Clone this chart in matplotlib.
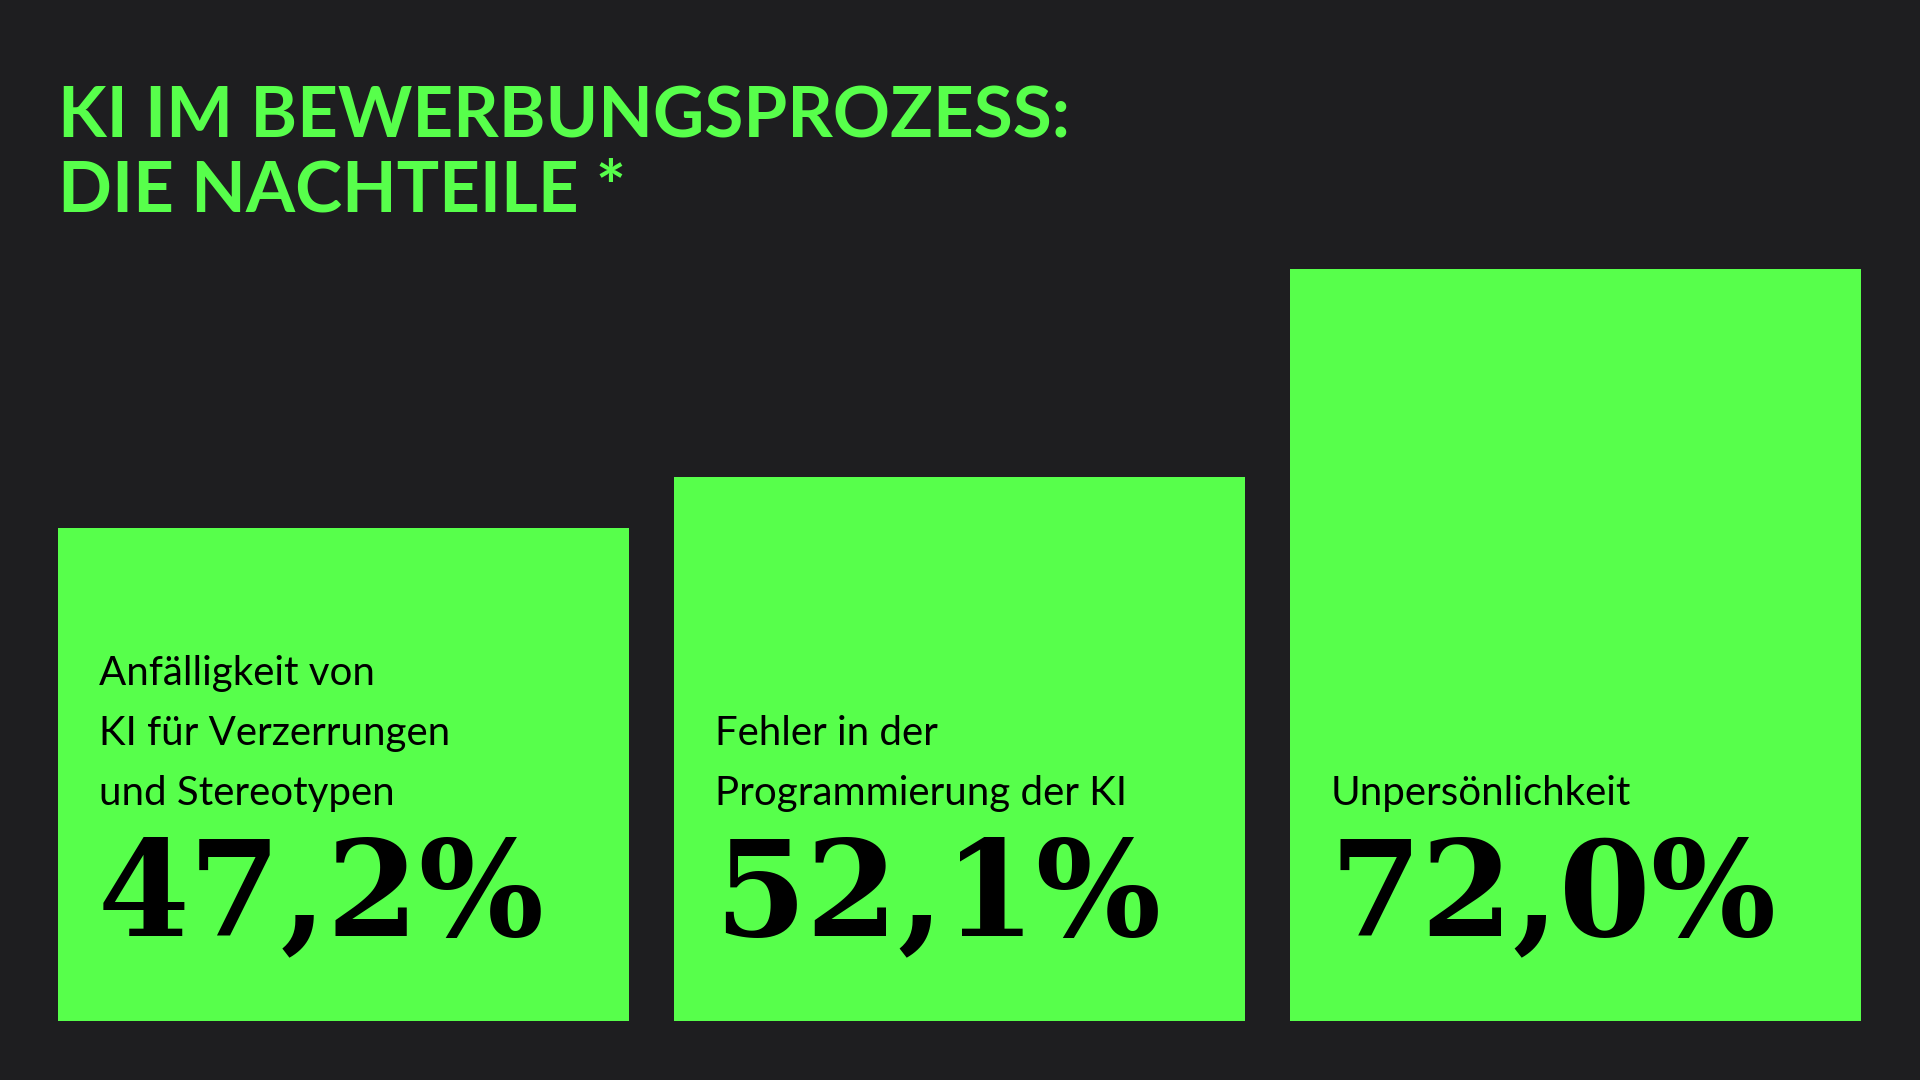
import matplotlib.pyplot as plt

# data
labels = [
    "Anfälligkeit von\nKI für Verzerrungen\nund Stereotypen",
    "Fehler in der\nProgrammierung der KI",
    "Unpersönlichkeit",
]
values = [47.2, 52.1, 72.0]
value_texts = ["47,2%", "52,1%", "72,0%"]

bg = "#1e1e20"
green = "#57ff4b"

fig = plt.figure(figsize=(19.2, 10.8), dpi=100, facecolor=bg)

# axes: baseline at y=1021px, 10.45 px per percentage point
base_px = 1021
px_per_unit = 10.45
ax = fig.add_axes([0, (1080 - base_px) / 1080, 1, base_px / 1080])
ax.set_facecolor(bg)
ax.set_ylim(0, base_px / px_per_unit)
pitch = 616.0
first_center = 343.5
ax.set_xlim(-first_center / pitch, (1920 - first_center) / pitch)
ax.axis("off")

width = 571 / pitch
x = list(range(len(values)))
ax.bar(x, values, width=width, color=green, linewidth=0)

line_step = 60 / px_per_unit
for i, (lab, vt) in enumerate(zip(labels, value_texts)):
    left = i - width / 2
    lines = lab.split("\n")
    for k, line in enumerate(reversed(lines)):
        ax.text(left + 41 / pitch, (base_px - 805) / px_per_unit + k * line_step, line,
                fontsize=29, family="Lato", fontweight="normal", color="black",
                va="baseline", ha="left")
    ax.text(left + 40 / pitch, (base_px - 935) / px_per_unit, vt,
            fontsize=95, family="DejaVu Serif", fontweight="bold", color="black",
            va="baseline", ha="left")

fig.text(58 / 1920, 1 - 137 / 1080, "KI IM BEWERBUNGSPROZESS:", fontsize=51,
         family="Lato", fontweight="bold", color=green, va="baseline", ha="left")
fig.text(58 / 1920, 1 - 211 / 1080, "DIE NACHTEILE *", fontsize=51,
         family="Lato", fontweight="bold", color=green, va="baseline", ha="left")

fig.savefig("out.png", dpi=100, facecolor=bg)
